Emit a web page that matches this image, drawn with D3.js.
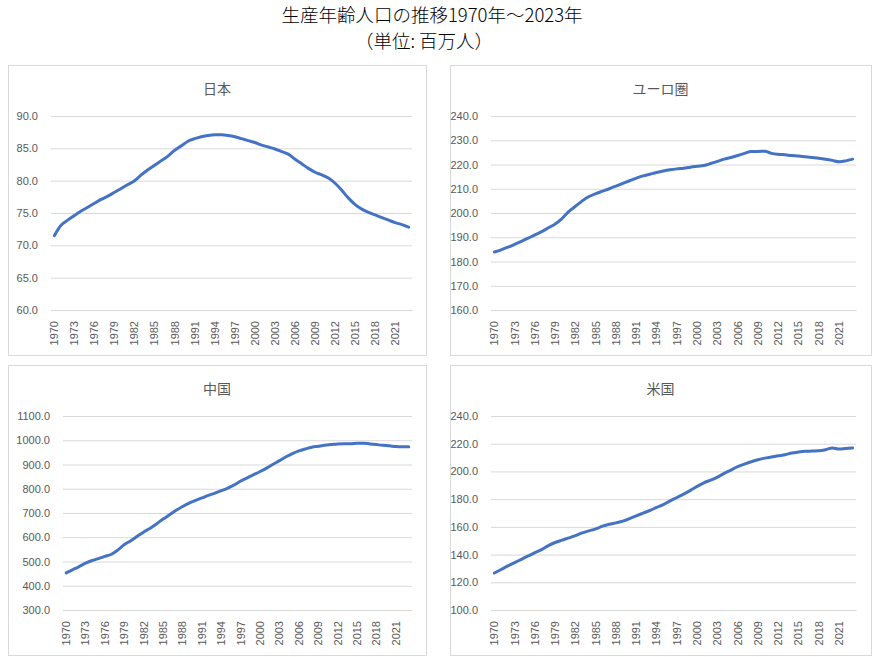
<!DOCTYPE html>
<html>
<head>
<meta charset="utf-8">
<script src="https://cdn.jsdelivr.net/npm/d3@7"></script>
<style>
  body { margin: 0; background: #fff; }
  svg { display: block; }
  .tick text { font-family: "Liberation Sans", Arial, sans-serif; font-size: 11px; fill: #595959; }
</style>
</head>
<body>
<svg id="chart" width="877" height="657"></svg>
<script>
var years = d3.range(1970, 2024);

var japan = [71.5, 73.1, 73.9, 74.6, 75.3, 75.9, 76.5, 77.1, 77.6, 78.2,
	78.8, 79.4, 80.0, 80.9, 81.7, 82.4, 83.1, 83.8, 84.7, 85.4,
	86.1, 86.5, 86.8, 87.0, 87.1, 87.1, 87.0, 86.8, 86.5, 86.2,
	85.9, 85.5, 85.2, 84.9, 84.5, 84.1, 83.3, 82.6, 81.9, 81.3,
	80.9, 80.4, 79.6, 78.5, 77.3, 76.3, 75.6, 75.1, 74.7, 74.3,
	73.9, 73.5, 73.2, 72.8];

var euro = [183.9, 184.8, 185.9, 187.1, 188.3, 189.6, 191.0, 192.3, 193.9, 195.5,
	197.7, 200.6, 202.8, 205.0, 206.8, 208.0, 209.0, 210.0, 211.1, 212.2,
	213.3, 214.4, 215.3, 216.0, 216.7, 217.3, 217.8, 218.2, 218.5, 218.9,
	219.3, 219.6, 220.4, 221.3, 222.2, 222.9, 223.7, 224.6, 225.4, 225.4,
	225.5, 224.6, 224.2, 224.0, 223.7, 223.5, 223.2, 222.9, 222.6, 222.2,
	221.7, 221.1, 221.5, 222.2];

var china = [453, 466, 479, 493, 504, 512, 521, 530, 548, 570,
	586, 604, 622, 637, 656, 675, 693, 711, 727, 741,
	752, 762, 773, 782, 792, 803, 816, 832, 845, 858,
	871, 885, 901, 916, 932, 945, 956, 964, 971, 975,
	979, 982, 985, 986, 986, 988, 988, 985, 982, 979,
	977, 974, 973, 973];

var usa = [126.7, 129.2, 131.8, 134.2, 136.6, 139.0, 141.4, 143.6, 146.5, 148.7,
	150.4, 152.0, 153.7, 155.7, 157.1, 158.6, 160.5, 161.9, 162.9, 164.1,
	166.0, 168.0, 169.9, 171.8, 174.0, 176.1, 178.8, 181.2, 183.6, 186.3,
	189.2, 191.8, 193.7, 195.9, 198.6, 201.0, 203.4, 205.3, 207.0, 208.4,
	209.6, 210.4, 211.3, 212.0, 213.3, 214.0, 214.5, 214.7, 214.9, 215.7,
	216.9, 216.1, 216.6, 216.9];

var yTicksJapan = [60, 65, 70, 75, 80, 85, 90];
var yTicksEuro = [160, 170, 180, 190, 200, 210, 220, 230, 240];
var yTicksChina = [300, 400, 500, 600, 700, 800, 900, 1000, 1100];
var yTicksUsa = [100, 120, 140, 160, 180, 200, 220, 240];
var xTickYears = years.filter(function(y) { return (y - 1970) % 3 === 0; });

var svg = d3.select("#chart");
var cjk = '"Noto Sans CJK JP", "Noto Sans", sans-serif';

// two-line chart title
svg.append("text")
	.attr("x", 432).attr("y", 22)
	.attr("text-anchor", "middle")
	.attr("font-family", cjk).attr("font-size", 18.5)
	.attr("font-weight", 300)
	.attr("fill", "#000")
	.text("生産年齢人口の推移1970年～2023年");
svg.append("text")
	.attr("x", 424).attr("y", 48)
	.attr("text-anchor", "middle")
	.attr("font-family", cjk).attr("font-size", 18.5)
	.attr("font-weight", 300)
	.attr("fill", "#000")
	.text("（単位: 百万人）");

var panels = [
	{ title: "日本", data: japan, ticks: yTicksJapan, box: [8, 65, 418, 290], plot: [51, 116, 412, 310] },
	{ title: "ユーロ圏", data: euro, ticks: yTicksEuro, box: [450, 65, 421, 290], plot: [491, 116, 856, 310] },
	{ title: "中国", data: china, ticks: yTicksChina, box: [8, 365, 418, 290], plot: [63, 416, 412, 610] },
	{ title: "米国", data: usa, ticks: yTicksUsa, box: [450, 365, 421, 290], plot: [491, 416, 856, 610] }
];

panels.forEach(function(p) {
	var g = svg.append("g");

	g.append("rect")
		.attr("x", p.box[0] + 0.5).attr("y", p.box[1] + 0.5)
		.attr("width", p.box[2]).attr("height", p.box[3])
		.attr("fill", "#fff")
		.attr("stroke", "#d9d9d9");

	g.append("text")
		.attr("x", p.box[0] + p.box[2] / 2).attr("y", p.box[1] + 29)
		.attr("text-anchor", "middle")
		.attr("font-family", cjk).attr("font-size", 14)
		.attr("fill", "#595959")
		.text(p.title);

	var x = d3.scaleBand().domain(years).range([p.plot[0], p.plot[2]]);
	var y = d3.scaleLinear()
		.domain([p.ticks[0], p.ticks[p.ticks.length - 1]])
		.range([p.plot[3], p.plot[1]]);

	// gridlines + y labels
	var yAxis = g.append("g")
		.attr("transform", "translate(" + p.plot[0] + ",0)")
		.call(d3.axisLeft(y)
			.tickValues(p.ticks)
			.tickSize(-(p.plot[2] - p.plot[0]))
			.tickPadding(13)
			.tickFormat(d3.format(".1f")));
	yAxis.select(".domain").remove();
	yAxis.selectAll(".tick line").attr("stroke", "#d9d9d9");

	// x axis, labels every 3 years, rotated
	var xAxis = g.append("g")
		.attr("transform", "translate(0," + p.plot[3] + ")")
		.call(d3.axisBottom(x).tickValues(xTickYears).tickSize(0));
	xAxis.select(".domain").attr("stroke", "#d9d9d9");
	xAxis.selectAll(".tick text")
		.attr("transform", "rotate(-90)")
		.attr("text-anchor", "end")
		.attr("x", -11)
		.attr("y", 0)
		.attr("dy", "0.35em");

	var line = d3.line()
		.x(function(d, i) { return x(years[i]) + x.bandwidth() / 2; })
		.y(function(d) { return y(d); })
		.curve(d3.curveMonotoneX);

	g.append("path")
		.datum(p.data)
		.attr("fill", "none")
		.attr("stroke", "#4472c4")
		.attr("stroke-width", 3)
		.attr("stroke-linecap", "round")
		.attr("stroke-linejoin", "round")
		.attr("d", line);
});
</script>
</body>
</html>
